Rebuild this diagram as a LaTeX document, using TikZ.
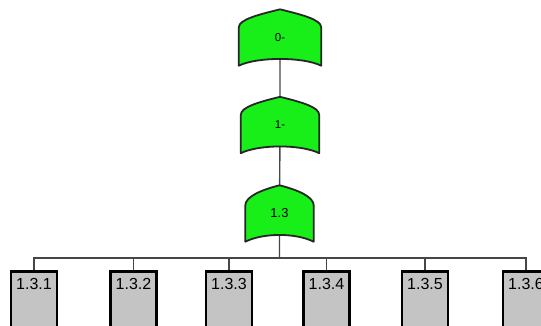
\documentclass[tikz,border=0pt]{standalone}
\usepackage{fontspec}
\setmainfont{Liberation Sans}
\usetikzlibrary{backgrounds}
\definecolor{gategreen}{RGB}{24,238,24}
\definecolor{boxgray}{RGB}{196,196,196}
\definecolor{wiregray}{RGB}{70,70,70}
\tikzset{
  gate/.style={inner sep=0pt, minimum height=56pt, font=\fontsize{11.5}{11.5}\selectfont},
  leaf/.style={draw=black, line width=2.6pt, fill=boxgray, minimum width=46pt,
    text height=12pt, text depth=62pt, inner ysep=6pt, anchor=north,
    font=\fontsize{16}{16}\selectfont},
  wire/.style={draw=wiregray, line width=1.4pt},
  gateline/.style={draw=black!85, line width=1.8pt, fill=gategreen, line join=round},
}
\begin{document}
\begin{tikzpicture}[x=1pt,y=-1pt]
\useasboundingbox (0,0) rectangle (541,325);
\node[gate, minimum width=82pt] (g0) at (280,37.5) {0-};
\node[gate, minimum width=78pt] (g1) at (280,125) {1-};
\node[gate, minimum width=68pt, font=\fontsize{13}{13}\selectfont] (g13) at (279.5,213.5) {1.3};
\foreach \i/\x in {1/34, 2/133.5, 3/229, 4/326.5, 5/425, 6/526}
  \node[leaf] (b\i) at (\x,270) {1.3.\i};
\coordinate (bus) at (279.5,258);
\begin{scope}[on background layer]
  \draw[wire] (g0.center) -- (g1.center) -- (g13.center) -- (bus);
  \foreach \i in {1,...,6}
    \draw[wire] (b\i.north) |- (bus);
  \foreach \g/\s in {g0/18, g1/18, g13/20}
    \draw[gateline] (\g.south west) -- ([yshift=-\s pt]\g.north west)
      .. controls +(0pt,8pt) and +(-20pt,-5pt) .. (\g.north)
      .. controls +(20pt,-5pt) and +(0pt,8pt) .. ([yshift=-\s pt]\g.north east)
      -- (\g.south east) .. controls +(-18pt,9pt) and +(18pt,9pt) .. (\g.south west) -- cycle;
\end{scope}
\end{tikzpicture}
\end{document}
